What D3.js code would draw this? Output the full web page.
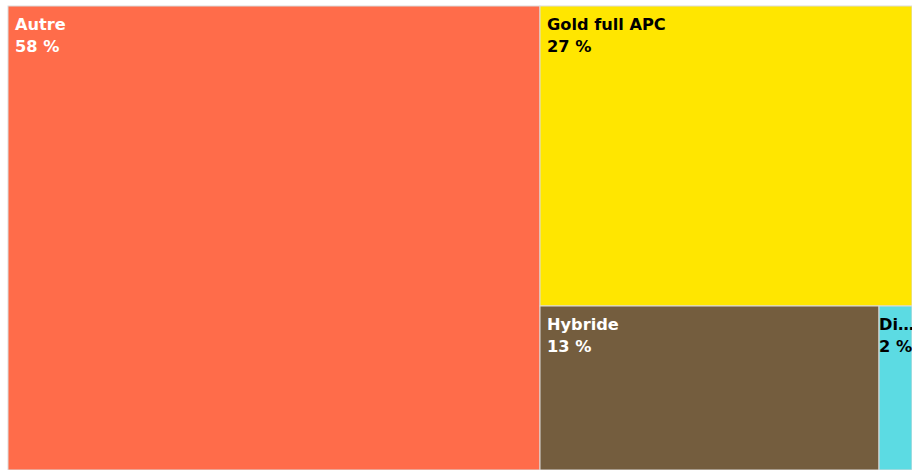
<!DOCTYPE html>
<html><head><meta charset="utf-8">
<script src="https://cdn.jsdelivr.net/npm/d3@7"></script>
<style>html,body{margin:0;padding:0;background:#fff;overflow:hidden}</style>
</head><body>
<svg id="c" width="912" height="470"></svg>
<script>
const categories = ["Autre", "Gold full APC", "Hybride", "Diamond"];
const values = [58.85, 26.54, 13.27, 1.30];
const percentLabels = ["58 %", "27 %", "13 %", "2 %"];
const colors = ["#ff6c4a", "#ffe600", "#745d3e", "#5cdbe3"];
const textColors = ["#ffffff", "#000000", "#ffffff", "#000000"];

const W = 904, H = 464, X0 = 8, Y0 = 6;
const svg = d3.select("#c");
const root = d3.hierarchy({children: categories.map((c, i) => ({name: c, value: values[i], i}))})
  .sum(d => d.value || 0);
d3.treemap().tile(d3.treemapSquarify).size([W, H]).round(true)(root);

const g = svg.append("g").attr("transform", `translate(${X0},${Y0})`);
const leaf = g.selectAll("g").data(root.leaves()).join("g")
  .attr("transform", d => `translate(${d.x0},${d.y0})`);
leaf.append("rect")
  .attr("width", d => d.x1 - d.x0).attr("height", d => d.y1 - d.y0)
  .attr("fill", d => colors[d.data.i])
  .attr("stroke", "#dcdcdc").attr("stroke-width", 1);

const FS = 16.2, FF = "'DejaVu Sans', sans-serif", FW = "bold";
leaf.each(function(d) {
  const w = d.x1 - d.x0;
  const pad = w < 50 ? 0 : 7;
  const sel = d3.select(this);
  const txt = sel.append("text")
    .attr("font-family", FF).attr("font-weight", FW)
    .attr("font-size", FS).attr("fill", textColors[d.data.i]);
  const t1 = txt.append("tspan").attr("x", pad).attr("y", 24).text(d.data.name);
  let s = d.data.name;
  while (t1.node().getComputedTextLength() > w - pad + 6 && s.length > 1) {
    s = s.slice(0, -1);
    t1.text(s + "…");
  }
  txt.append("tspan").attr("x", pad).attr("y", 46).text(percentLabels[d.data.i]);
});
</script>
</body></html>
